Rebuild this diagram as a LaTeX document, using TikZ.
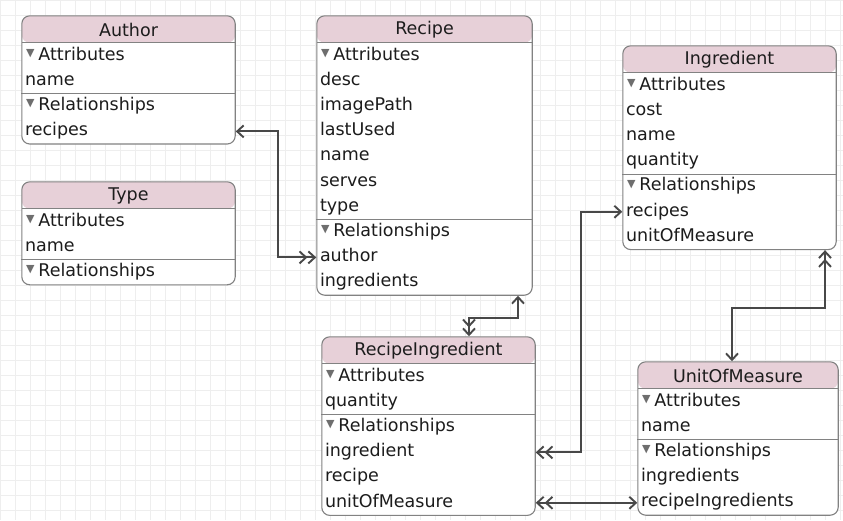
\documentclass[tikz,border=0pt]{standalone}
\usepackage{fontspec}
\setmainfont{DejaVu Sans}
\usepackage{xcolor}
\definecolor{colorHeader}{RGB}{231,208,216}
\definecolor{colorFrame}{RGB}{130,130,130}
\definecolor{colorLink}{RGB}{72,72,72}
\definecolor{colorGrid}{RGB}{238,238,238}
\definecolor{colorTri}{RGB}{110,110,110}
\definecolor{colorText}{RGB}{28,28,28}
\usetikzlibrary{arrows.meta, positioning, fit, backgrounds}
\newcommand{\tri}{\hspace{1pt}\textcolor{colorTri}{\fontsize{11}{11}\selectfont\raisebox{3.5pt}{▼}}\hspace{4pt}}
\tikzset{
  title/.style={minimum width=#1, minimum height=27pt, inner sep=0pt, text=colorText},
  title/.default=213pt,
  row/.style={text width=#1, align=left, inner xsep=3pt, inner ysep=0pt, minimum height=24.8pt,
    text height=12.5pt, text depth=4pt, text=colorText},
  row/.default=207pt,
  entity/.style={draw=colorFrame, line width=1.1pt, rounded corners=8pt, fill=white, inner sep=0pt,
    path picture={
      \fill[colorHeader] (path picture bounding box.north west) rectangle ([yshift=-27pt]path picture bounding box.north east);
      \draw[colorFrame, line width=1pt] ([yshift=-27pt]path picture bounding box.north west) -- ([yshift=-27pt]path picture bounding box.north east);
    }},
  divider/.style={draw=colorFrame, line width=1pt},
  link/.style={draw=colorLink, line width=1.9pt},
}

\begin{document}
\begin{tikzpicture}[x=1pt, y=-1pt, >={Straight Barb[length=6.5pt, width=12pt]},
  every node/.style={font=\fontsize{17.5}{21}\selectfont}]
\useasboundingbox (0,0) rectangle (843,520);

% Author
\node[title] (author) at (128.5,29.5) {Author};
\node[row, below=0pt of author] (author-attr) {\tri Attributes};
\node[row, below=0pt of author-attr] (author-name) {name};
\node[row, below=0pt of author-name] (author-rel) {\tri Relationships};
\node[row, below=0pt of author-rel] (author-recipes) {recipes};

% Type
\node[title] (type) at (128.5,195.5) {Type};
\node[row, below=0pt of type] (type-attr) {\tri Attributes};
\node[row, below=0pt of type-attr] (type-name) {name};
\node[row, below=0pt of type-name] (type-rel) {\tri Relationships};

% Recipe
\node[title=215pt] (recipe) at (424.5,29.5) {Recipe};
\node[row=209pt, below=0pt of recipe] (recipe-attr) {\tri Attributes};
\node[row=209pt, below=0pt of recipe-attr] (recipe-desc) {desc};
\node[row=209pt, below=0pt of recipe-desc] (recipe-image) {imagePath};
\node[row=209pt, below=0pt of recipe-image] (recipe-used) {lastUsed};
\node[row=209pt, below=0pt of recipe-used] (recipe-name) {name};
\node[row=209pt, below=0pt of recipe-name] (recipe-serves) {serves};
\node[row=209pt, below=0pt of recipe-serves] (recipe-type) {type};
\node[row=209pt, below=0pt of recipe-type] (recipe-rel) {\tri Relationships};
\node[row=209pt, below=0pt of recipe-rel] (recipe-author) {author};
\node[row=209pt, below=0pt of recipe-author] (recipe-ingr) {ingredients};

% Ingredient
\node[title] (ingredient) at (729.5,59.5) {Ingredient};
\node[row, below=0pt of ingredient] (ingredient-attr) {\tri Attributes};
\node[row, below=0pt of ingredient-attr] (ingredient-cost) {cost};
\node[row, below=0pt of ingredient-cost] (ingredient-name) {name};
\node[row, below=0pt of ingredient-name] (ingredient-qty) {quantity};
\node[row, below=0pt of ingredient-qty] (ingredient-rel) {\tri Relationships};
\node[row, below=0pt of ingredient-rel] (ingredient-recipes) {recipes};
\node[row, below=0pt of ingredient-recipes] (ingredient-uom) {unitOfMeasure};

% RecipeIngredient
\node[title] (ri) at (428.5,350.5) {RecipeIngredient};
\node[row, below=0pt of ri] (ri-attr) {\tri Attributes};
\node[row, below=0pt of ri-attr] (ri-qty) {quantity};
\node[row, below=0pt of ri-qty] (ri-rel) {\tri Relationships};
\node[row, below=0pt of ri-rel] (ri-ingredient) {ingredient};
\node[row, below=0pt of ri-ingredient] (ri-recipe) {recipe};
\node[row, below=0pt of ri-recipe] (ri-uom) {unitOfMeasure};

% UnitOfMeasure
\node[title=200pt] (uom) at (738,375.5) {UnitOfMeasure};
\node[row=194pt, below=0pt of uom] (uom-attr) {\tri Attributes};
\node[row=194pt, below=0pt of uom-attr] (uom-name) {name};
\node[row=194pt, below=0pt of uom-name] (uom-rel) {\tri Relationships};
\node[row=194pt, below=0pt of uom-rel] (uom-ingr) {ingredients};
\node[row=194pt, below=0pt of uom-ingr] (uom-ri) {recipeIngredients};

\begin{scope}[on background layer]
\draw[colorGrid, line width=0.6pt, step=15pt] (0,0) grid (843,520);
\node[entity, fit=(author)(author-recipes)] (author-box) {};
\node[entity, fit=(type)(type-rel)] (type-box) {};
\node[entity, fit=(recipe)(recipe-ingr)] (recipe-box) {};
\node[entity, fit=(ingredient)(ingredient-uom)] (ingredient-box) {};
\node[entity, fit=(ri)(ri-uom)] (ri-box) {};
\node[entity, fit=(uom)(uom-ri)] (uom-box) {};
\end{scope}

% dividers
\draw[divider] (author-box.west |- author-rel.north) -- (author-box.east |- author-rel.north);
\draw[divider] (type-box.west |- type-rel.north) -- (type-box.east |- type-rel.north);
\draw[divider] (recipe-box.west |- recipe-rel.north) -- (recipe-box.east |- recipe-rel.north);
\draw[divider] (ingredient-box.west |- ingredient-rel.north) -- (ingredient-box.east |- ingredient-rel.north);
\draw[divider] (ri-box.west |- ri-rel.north) -- (ri-box.east |- ri-rel.north);
\draw[divider] (uom-box.west |- uom-rel.north) -- (uom-box.east |- uom-rel.north);

% relationships
\draw[link, <->>] (author-box.east |- author-recipes) -- ++(42,0) |- (recipe-box.west |- recipe-author);
\draw[link, <->>] ([xshift=93.5pt]recipe-box.south) -- ++(0,22) -| ([xshift=40.5pt]ri-box.north);
\draw[link, <<->] (ri-box.east |- ri-ingredient) -- ++(45,0) |- (ingredient-box.west |- ingredient-recipes);
\draw[link, <<->] ([xshift=95.5pt]ingredient-box.south) -- ++(0,58) -| ([xshift=-6pt]uom-box.north);
\draw[link, <<->] (ri-box.east |- ri-uom) -- (uom-box.west |- ri-uom);
\end{tikzpicture}
\end{document}
